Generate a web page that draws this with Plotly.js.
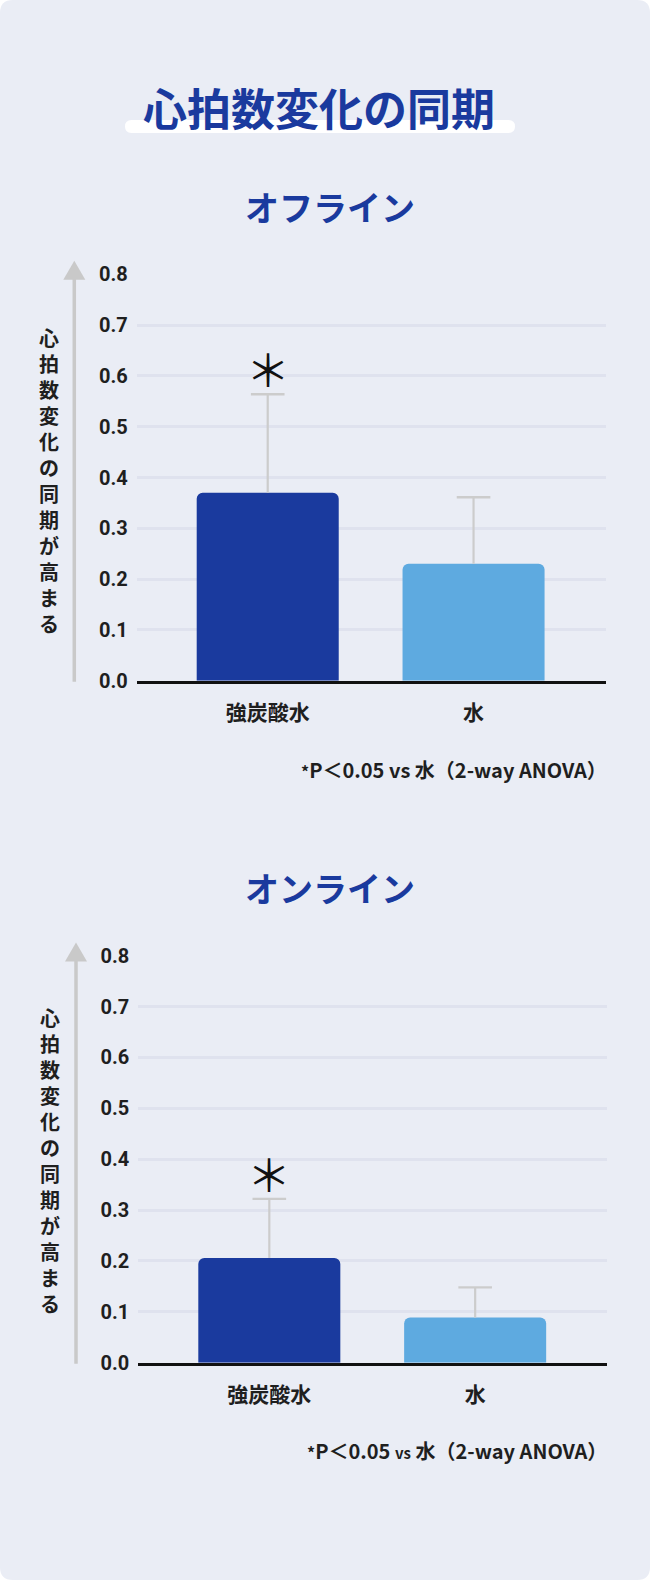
<!DOCTYPE html>
<html>
<head>
<meta charset="utf-8">
<script src="https://cdn.plot.ly/plotly-3.0.1.min.js"></script>
<style>
html,body{margin:0;padding:0;background:#ffffff;}
#chart{width:650px;height:1580px;}
</style>
</head>
<body>
<div id="chart"></div>
<script>
// ---- data ----
const categories = ['強炭酸水', '水'];
const offlineMeans = [0.37, 0.23];
const offlineErr = [0.194, 0.131];
const onlineMeans = [0.206, 0.089];
const onlineErr = [0.116, 0.059];
const noLowerErr = [0, 0];
const yTickVals = [0, 0.1, 0.2, 0.3, 0.4, 0.5, 0.6, 0.7, 0.8];
const yTickText = ['0.0', '0.1', '0.2', '0.3', '0.4', '0.5', '0.6', '0.7', '0.8'];
const sigMarks = ['＊', ''];

const mainTitle = '心拍数変化の同期';
const subTitles = ['オフライン', 'オンライン'];
const yLabel = '心拍数変化の同期が高まる';
const footnote1 = '<span style="font-size:16px">*</span>P＜0.05 vs 水（2-way ANOVA）';
const footnote2 = '<span style="font-size:16px">*</span>P＜0.05 <span style="font-size:15px">vs</span> 水（2-way ANOVA）';

// ---- styles ----
const W = 650, H = 1580;
const px = x => x / W;
const py = y => 1 - y / H;
const barColors = ['#1A3A9E', '#5EAAE0'];
const jp = '"Noto Sans CJK JP", "Noto Sans", sans-serif';
const num = 'Roboto, "Noto Sans", sans-serif';
const titleBlue = '#1A3A9E';
const textDark = '#1f1f1f';
const gridC = '#DFE2EE';
const arrowC = '#C9C9C9';
const errC = '#CCCCCC';

function barTrace(means, errs, xa, ya) {
  return {
    type: 'bar', x: categories, y: means, xaxis: xa, yaxis: ya,
    width: 0.69,
    marker: { color: barColors, cornerradius: 6, line: { width: 0 } },
    error_y: { type: 'data', symmetric: false, array: errs, arrayminus: noLowerErr, visible: true,
      color: errC, thickness: 2.2, width: 0 },
    hoverinfo: 'skip', showlegend: false
  };
}
function capTrace(means, errs, xa, ya) {
  return {
    type: 'scatter', mode: 'markers', x: categories, y: means.map((m, i) => m + errs[i]),
    xaxis: xa, yaxis: ya, cliponaxis: false,
    marker: { symbol: 'line-ew', size: 24, color: errC, line: { color: errC, width: 2.4 } },
    hoverinfo: 'skip', showlegend: false
  };
}

const data = [
  barTrace(offlineMeans, offlineErr, 'x', 'y'),
  capTrace(offlineMeans, offlineErr, 'x', 'y'),
  barTrace(onlineMeans, onlineErr, 'x2', 'y2'),
  capTrace(onlineMeans, onlineErr, 'x2', 'y2')
];

const xRange = [-0.6365, 1.642];
function xAxis(domain, anchor) {
  return {
    domain: domain, anchor: anchor, type: 'category', range: xRange,
    showgrid: false, zeroline: false, showline: true, linecolor: '#111111', linewidth: 3,
    ticks: '', ticklabelstandoff: 11,
    tickfont: { family: jp, size: 21, color: textDark, weight: 'bold' },
    fixedrange: true
  };
}
function yAxis(domain, anchor) {
  return {
    domain: domain, anchor: anchor, range: [0, 0.8],
    tickvals: yTickVals, ticktext: yTickText,
    showgrid: true, gridcolor: gridC, gridwidth: 3, zeroline: false, showline: false,
    ticks: '', ticklabelstandoff: 8,
    tickfont: { family: num, size: 20, color: textDark, weight: 'bold' },
    fixedrange: true
  };
}

function vertLabel(text, xc, yc) {
  return {
    xref: 'paper', yref: 'paper', x: px(xc), y: py(yc), xanchor: 'center', yanchor: 'middle',
    text: text.split('').join('<br>'), showarrow: false,
    font: { family: jp, size: 20, color: textDark, weight: 'bold' }
  };
}

function sigAnn(means, errs, xa, ya) {
  return categories.map((c, i) => ({
    xref: xa, yref: ya, x: c, y: means[i] + errs[i], xanchor: 'center', yanchor: 'middle',
    yshift: 26, text: sigMarks[i], showarrow: false,
    font: { family: jp, size: 44, color: '#111111' }
  })).filter(a => a.text);
}

function arrowShapes(x, yBottom, yTip) {
  return [
    { type: 'line', xref: 'paper', yref: 'paper', x0: px(x), x1: px(x), y0: py(yBottom), y1: py(yTip + 16),
      line: { color: arrowC, width: 3.5 }, layer: 'above' },
    { type: 'path', xref: 'paper', yref: 'paper',
      path: `M ${px(x - 11)} ${py(yTip + 19)} L ${px(x + 11)} ${py(yTip + 19)} L ${px(x)} ${py(yTip)} Z`,
      fillcolor: arrowC, line: { width: 0 }, layer: 'above' }
  ];
}

function roundRect(x0, y0, x1, y1, r) {
  return `M ${px(x0 + r)} ${py(y0)} L ${px(x1 - r)} ${py(y0)} Q ${px(x1)} ${py(y0)} ${px(x1)} ${py(y0 + r)} ` +
    `L ${px(x1)} ${py(y1 - r)} Q ${px(x1)} ${py(y1)} ${px(x1 - r)} ${py(y1)} L ${px(x0 + r)} ${py(y1)} ` +
    `Q ${px(x0)} ${py(y1)} ${px(x0)} ${py(y1 - r)} L ${px(x0)} ${py(y0 + r)} Q ${px(x0)} ${py(y0)} ${px(x0 + r)} ${py(y0)} Z`;
}

const shapes = [
  { type: 'path', xref: 'paper', yref: 'paper', path: roundRect(0, 0, 650, 1580, 13),
    fillcolor: '#EAEDF5', line: { width: 0 }, layer: 'below' },
  { type: 'path', xref: 'paper', yref: 'paper', path: roundRect(125, 120, 515, 133, 6.5),
    fillcolor: '#FFFFFF', line: { width: 0 }, layer: 'above' },
  ...arrowShapes(74.3, 681.7, 260.7),
  ...arrowShapes(76, 1363.7, 942.5)
];

const annotations = [
  { xref: 'paper', yref: 'paper', x: px(319), y: py(107), xanchor: 'center', yanchor: 'middle',
    text: mainTitle, showarrow: false, font: { family: jp, size: 44, color: titleBlue, weight: 'bold' } },
  { xref: 'paper', yref: 'paper', x: px(330), y: py(206), xanchor: 'center', yanchor: 'middle',
    text: subTitles[0], showarrow: false, font: { family: jp, size: 34, color: titleBlue, weight: 'bold' } },
  { xref: 'paper', yref: 'paper', x: px(330), y: py(887), xanchor: 'center', yanchor: 'middle',
    text: subTitles[1], showarrow: false, font: { family: jp, size: 34, color: titleBlue, weight: 'bold' } },
  vertLabel(yLabel, 48.5, 480),
  vertLabel(yLabel, 49.5, 1160),
  ...sigAnn(offlineMeans, offlineErr, 'x', 'y'),
  ...sigAnn(onlineMeans, onlineErr, 'x2', 'y2'),
  { xref: 'paper', yref: 'paper', x: px(609), y: py(770), xanchor: 'right', yanchor: 'middle',
    text: footnote1, showarrow: false, font: { family: jp, size: 20, color: textDark, weight: 'bold' } },
  { xref: 'paper', yref: 'paper', x: px(609), y: py(1450), xanchor: 'right', yanchor: 'middle',
    text: footnote2, showarrow: false, font: { family: jp, size: 20, color: textDark, weight: 'bold' } }
];

const layout = {
  width: W, height: H,
  margin: { l: 0, r: 0, t: 0, b: 0 },
  paper_bgcolor: '#FFFFFF', plot_bgcolor: 'rgba(0,0,0,0)',
  showlegend: false,
  xaxis: xAxis([px(136.7), px(605.7)], 'y'),
  yaxis: yAxis([py(680.7), py(274.3)], 'x'),
  xaxis2: xAxis([px(138.3), px(607.3)], 'y2'),
  yaxis2: yAxis([py(1362.7), py(955.7)], 'x2'),
  shapes: shapes,
  annotations: annotations,
  bargap: 0.3
};

Plotly.newPlot('chart', data, layout, { displayModeBar: false, staticPlot: true });
</script>
</body>
</html>
